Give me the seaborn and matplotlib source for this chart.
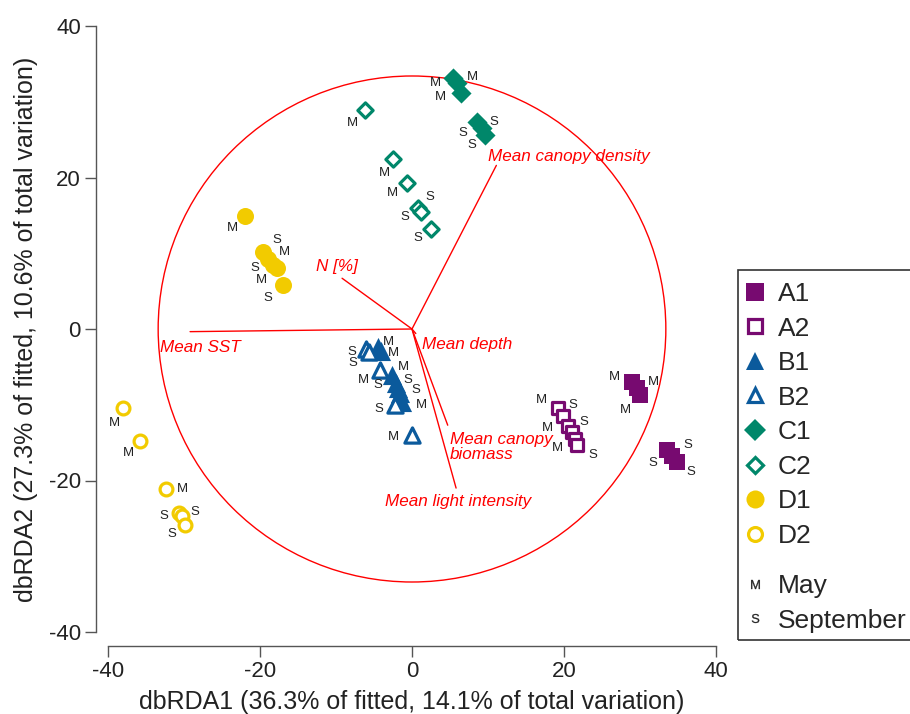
import matplotlib
matplotlib.use("Agg")
import matplotlib.pyplot as plt
from matplotlib.lines import Line2D
from matplotlib.patches import Circle, Rectangle
import seaborn as sns

# site coordinates (dbRDA1, dbRDA2) and sampling month
a1_x = [28.9, 29.6, 30.0, 33.6, 34.2, 34.9]
a1_y = [-7.0, -7.8, -8.7, -16.0, -16.8, -17.6]
a1_month = ["M", "M", "M", "S", "S", "S"]

a2_x = [19.2, 19.9, 20.5, 21.0, 21.4, 21.7]
a2_y = [-10.4, -11.5, -12.8, -13.6, -14.5, -15.3]
a2_month = ["M", "S", "M", "S", "M", "S"]

b1_x = [-4.5, -4.1, -2.6, -2.1, -1.8, -1.6, -1.3]
b1_y = [-2.4, -2.9, -6.1, -7.1, -7.8, -8.5, -9.6]
b1_month = ["M", "M", "M", "S", "S", "S", "M"]

b2_x = [-6.0, -5.7, -4.2, -2.2, 0.0]
b2_y = [-2.6, -3.0, -5.4, -10.0, -14.0]
b2_month = ["S", "S", "M", "S", "M"]

c1_x = [5.4, 5.9, 6.4, 8.6, 9.2, 9.6]
c1_y = [33.1, 32.5, 31.2, 27.3, 26.5, 25.6]
c1_month = ["M", "M", "M", "S", "S", "S"]

c2_x = [-6.2, -2.5, -0.7, 0.8, 1.2, 2.5]
c2_y = [28.9, 22.4, 19.3, 16.0, 15.5, 13.2]
c2_month = ["M", "M", "M", "S", "S", "S"]

d1_x = [-22.0, -19.6, -19.0, -18.3, -17.8, -17.0]
d1_y = [14.9, 10.2, 9.2, 8.5, 8.1, 5.8]
d1_month = ["M", "S", "M", "S", "M", "S"]

d2_x = [-38.0, -35.8, -32.4, -30.7, -30.3, -29.9]
d2_y = [-10.4, -14.8, -21.1, -24.3, -24.7, -25.9]
d2_month = ["M", "M", "M", "S", "S", "S"]

# environmental vectors (end points) and their labels
vec_names = ["Mean canopy density", "N [%]", "Mean SST", "Mean depth",
             "Mean canopy\nbiomass", "Mean light intensity"]
vec_x = [11.1, -9.2, -29.2, 0.5, 4.7, 5.8]
vec_y = [21.6, 6.7, -0.35, -0.6, -12.7, -21.0]
corr_radius = 33.4

x_label = "dbRDA1 (36.3% of fitted, 14.1% of total variation)"
y_label = "dbRDA2 (27.3% of fitted, 10.6% of total variation)"
ticks = [-40, -20, 0, 20, 40]

# label offsets (pixels) for the M / S letters next to each point
label_offsets = {
    "A1": [(-17, 5), (16, 6), (-15, -15), (20, 5), (-19, -7), (14, -10)],
    "A2": [(-16, 8), (10, 11), (-20, -2), (12, 10), (-17, -9), (16, -10)],
    "B1": [(11, 5), (13, -2), (11, 8), (-18, -2), (10, 8), (16, 3), (19, -3)],
    "B2": [(-15, -3), (-16, -11), (-17, -10), (-16, -4), (-19, -2)],
    "C1": [(-18, -5), (16, 6), (-20, -4), (16, 0), (-19, -5), (-13, -10)],
    "C2": [(-12, -13), (-9, -14), (-14, -10), (12, 11), (-16, -5), (-13, -9)],
    "D1": [(-12, -12), (14, 12), (17, 7), (-18, -3), (-15, -12), (-15, -13)],
    "D2": [(-9, -15), (-11, -12), (17, 0), (-15, -3), (13, 4), (-13, -9)],
}
vec_label_pos = [(10.0, 22.8), (-12.6, 8.3), (-33.2, -2.5), (1.3, -2.0),
                 (5.0, -15.6), (-3.6, -22.8)]

purple, blue, green, yellow = "#770A70", "#0B5A9C", "#00876A", "#F2CB00"
groups = [
    ("A1", a1_x, a1_y, a1_month, "s", purple, True),
    ("A2", a2_x, a2_y, a2_month, "s", purple, False),
    ("B1", b1_x, b1_y, b1_month, "^", blue, True),
    ("B2", b2_x, b2_y, b2_month, "^", blue, False),
    ("C1", c1_x, c1_y, c1_month, "D", green, True),
    ("C2", c2_x, c2_y, c2_month, "D", green, False),
    ("D1", d1_x, d1_y, d1_month, "o", yellow, True),
    ("D2", d2_x, d2_y, d2_month, "o", yellow, False),
]
filled_size = {"s": 135, "^": 190, "D": 105, "o": 150}
open_size = {"s": 80, "^": 120, "D": 60, "o": 85}

sns.set_style("white")
plt.rcParams["font.family"] = ["Liberation Sans", "DejaVu Sans"]
plt.rcParams["axes.unicode_minus"] = False
plt.rcParams["mathtext.fontset"] = "custom"
plt.rcParams["mathtext.rm"] = "Liberation Sans"

fig = plt.figure(figsize=(9.1, 7.14), dpi=100)
ax = fig.add_axes([108 / 910, 1 - 632 / 714, 608 / 910, 606 / 714])

# correlation circle and vectors
ax.add_patch(Circle((0, 0), corr_radius, fill=False, edgecolor="red", lw=1.0, zorder=1))
for name, vx, vy, (tx, ty) in zip(vec_names, vec_x, vec_y, vec_label_pos):
    ax.plot([0, vx], [0, vy], color="red", lw=1.0, zorder=1)
    ax.text(tx, ty, name, color="red", style="italic", fontsize=12.3,
            ha="left", va="center", linespacing=1.0, zorder=2)

for site, xs, ys, months, marker, color, filled in groups:
    if filled:
        sns.scatterplot(x=xs, y=ys, ax=ax, marker=marker, color=color,
                        edgecolor=color, linewidth=0, s=filled_size[marker], zorder=3)
    else:
        sns.scatterplot(x=xs, y=ys, ax=ax, marker=marker, color="white",
                        edgecolor=color, linewidth=2.3, s=open_size[marker], zorder=3)
    for (px, py, m, off) in zip(xs, ys, months, label_offsets[site]):
        ax.annotate(m, (px, py), xytext=off, textcoords="offset pixels",
                    ha="center", va="center", fontsize=9.5, color="#222222", zorder=4)

ax.set_xlim(-40, 40)
ax.set_ylim(-40, 40)
ax.set_xticks(ticks)
ax.set_yticks(ticks)
ax.set_xlabel(x_label, fontsize=18, color="#222222", labelpad=6)
ax.set_ylabel(y_label, fontsize=18, color="#222222", labelpad=8)
ax.tick_params(axis="both", which="major", direction="out", length=8, width=1,
               color="#555555", labelsize=16, labelcolor="#222222", pad=3,
               bottom=True, left=True)
sns.despine(ax=ax)
ax.spines["left"].set_position(("outward", 8.6))
ax.spines["bottom"].set_position(("outward", 10))
for sp in ("left", "bottom"):
    ax.spines[sp].set_color("#555555")
    ax.spines[sp].set_linewidth(1.0)

# legend: sites, then months, inside one frame
site_handles = []
for site, xs, ys, months, marker, color, filled in groups:
    ms = {"s": 12.5, "^": 13.5, "D": 11, "o": 13}[marker]
    if filled:
        h = Line2D([], [], ls="", marker=marker, markersize=ms, markerfacecolor=color,
                   markeredgecolor=color, markeredgewidth=0)
    else:
        h = Line2D([], [], ls="", marker=marker, markersize=ms - 3, markerfacecolor="white",
                   markeredgecolor=color, markeredgewidth=2.3)
    site_handles.append(h)
leg_kw = dict(loc="upper left", frameon=False, fontsize=19, labelspacing=0.40,
              handletextpad=0.35, handlelength=1.0, borderpad=0, borderaxespad=0)
fig.legend(site_handles, [g[0] for g in groups],
           bbox_to_anchor=(742 / 910, 1 - 282 / 714), **leg_kw)
month_handles = [
    Line2D([], [], ls="", marker=r"$\mathrm{M}$", markersize=6.5,
           color="#222222", markeredgewidth=0.2),
    Line2D([], [], ls="", marker=r"$\mathrm{S}$", markersize=6.5,
           color="#222222", markeredgewidth=0.2),
]
fig.legend(month_handles, ["May", "September"],
           bbox_to_anchor=(742 / 910, 1 - 574 / 714), **leg_kw)
fig.add_artist(Rectangle((738 / 910, 1 - 640 / 714), 200 / 910, 370 / 714,
                         transform=fig.transFigure, fill=False,
                         edgecolor="#333333", lw=1.2))

fig.savefig("out.png", dpi=100)
